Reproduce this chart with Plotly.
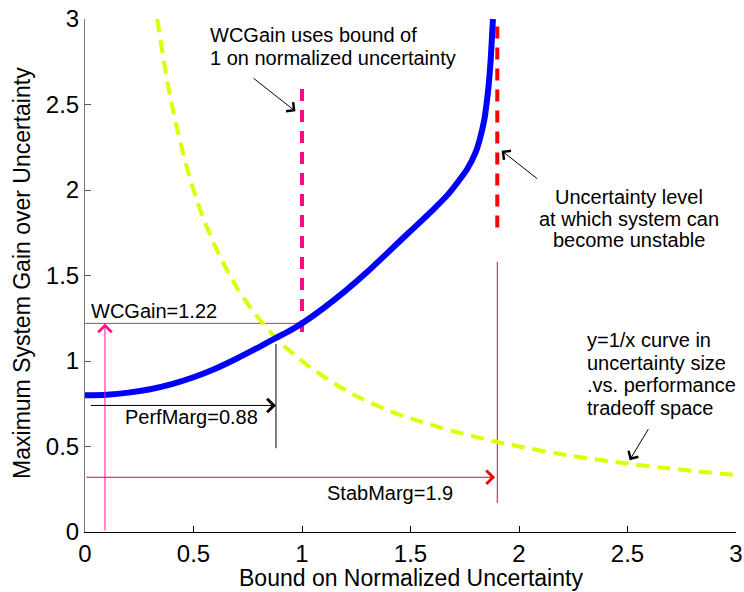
import plotly.graph_objects as go

# Worst-case gain curve
gain_x = [0.0, 0.1, 0.2, 0.3, 0.4, 0.5, 0.6, 0.7, 0.8, 0.88, 0.94, 1.0, 1.1, 1.2,
          1.3, 1.4, 1.5, 1.6, 1.67, 1.72, 1.76, 1.8, 1.82, 1.84, 1.85, 1.86, 1.87, 1.88]
gain_y = [0.80, 0.803, 0.815, 0.835, 0.865, 0.905, 0.955, 1.015, 1.08, 1.135, 1.175,
          1.22, 1.31, 1.41, 1.52, 1.64, 1.76, 1.88, 1.97, 2.05, 2.12, 2.22, 2.30,
          2.41, 2.50, 2.61, 2.77, 3.0]

# y = 1/x tradeoff curve
inv_x = [0.333, 0.4, 0.5, 0.6, 0.7, 0.8, 0.9, 1.0, 1.2, 1.4, 1.6, 1.8, 2.0,
         2.25, 2.5, 2.75, 3.0]
inv_y = [3.0, 2.5, 2.0, 1.67, 1.43, 1.25, 1.11, 1.0, 0.83, 0.71, 0.625, 0.556,
         0.5, 0.444, 0.4, 0.364, 0.333]

# key values
wc_bound = 1.0
wc_bound_span = [1.17, 2.63]
stab_marg = 1.9
stab_dash_span = [1.78, 3.0]
stab_line_span = [0.17, 1.58]
wc_gain = 1.22
perf_marg = 0.88
perf_line_span = [0.49, 1.10]
perf_arrow_y = 0.74
stab_arrow_y = 0.32
wc_arrow_x = 0.092

x_ticks = [0, 0.5, 1, 1.5, 2, 2.5, 3]
y_ticks = [0, 0.5, 1, 1.5, 2, 2.5, 3]

# annotation text lines
note_wc = ["WCGain uses bound of", "1 on normalized uncertainty"]
note_stab = ["Uncertainty level", "at which system can", "become unstable"]
note_inv = ["y=1/x curve in", "uncertainty size", ".vs. performance", "tradeoff space"]

FONT = "Liberation Sans, Arial, sans-serif"
PINK = "#FF1493"
DPINK = "#FF0A82"
RED = "#FF0000"

fig = go.Figure()

# thin helper lines
fig.add_trace(go.Scatter(x=[0, wc_bound], y=[wc_gain, wc_gain], mode="lines",
                         line=dict(color=PINK, width=1), hoverinfo="skip"))
fig.add_trace(go.Scatter(x=[stab_marg, stab_marg], y=stab_line_span, mode="lines",
                         line=dict(color=RED, width=1), hoverinfo="skip"))
fig.add_trace(go.Scatter(x=[perf_marg, perf_marg], y=perf_line_span, mode="lines",
                         line=dict(color="black", width=1), hoverinfo="skip"))

# 1/x curve
fig.add_trace(go.Scatter(x=inv_x, y=inv_y, mode="lines", line_shape="spline",
                         line=dict(color="#DDFF00", width=4, dash="13px,8px"),
                         hoverinfo="skip"))
# dashed vertical lines
fig.add_trace(go.Scatter(x=[wc_bound, wc_bound], y=wc_bound_span, mode="lines",
                         line=dict(color=DPINK, width=4, dash="12px,9px"),
                         hoverinfo="skip"))
fig.add_trace(go.Scatter(x=[stab_marg, stab_marg], y=stab_dash_span, mode="lines",
                         line=dict(color=RED, width=4, dash="12px,9px"),
                         hoverinfo="skip"))
# gain curve
fig.add_trace(go.Scatter(x=gain_x, y=gain_y, mode="lines", line_shape="spline",
                         line=dict(color="#0000FF", width=6, smoothing=0.6),
                         hoverinfo="skip"))

anns = []


def arrow(hx, hy, tx, ty, color, size=2.6):
    anns.append(dict(x=hx, y=hy, ax=tx, ay=ty, xref="x", yref="y", axref="x",
                     ayref="y", text="", showarrow=True, arrowhead=4,
                     arrowsize=size, arrowwidth=1, arrowcolor=color))


arrow(wc_arrow_x, wc_gain, wc_arrow_x, 0.0, PINK)
arrow(perf_marg, perf_arrow_y, 0.02, perf_arrow_y, "black")
arrow(stab_marg - 0.01, stab_arrow_y, 0.0, stab_arrow_y, RED)
arrow(0.97, 2.46, 0.77, 2.66, "black", 2.2)
arrow(1.92, 2.23, 2.09, 2.06, "black", 2.2)
arrow(2.51, 0.42, 2.60, 0.61, "black", 2.2)

tfont = dict(family=FONT, size=20, color="black")


def label(x, y, text, xanchor="center"):
    anns.append(dict(x=x, y=y, xref="x", yref="y", text=text, showarrow=False,
                     xanchor=xanchor, yanchor="middle", font=tfont))


def block(x, y0, lines, xanchor, step=0.131):
    for i, t in enumerate(lines):
        label(x, y0 - i * step, t, xanchor)


block(0.567, 2.906, note_wc, "left", step=0.134)
block(2.507, 1.959, note_stab, "center", step=0.127)
block(2.304, 1.123, note_inv, "left", step=0.133)
label(0.32, 1.29, "WCGain=1.22")
label(0.49, 0.67, "PerfMarg=0.88")
label(1.405, 0.23, "StabMarg=1.9")

# axis titles
anns.append(dict(x=-0.0968, y=0.505, xref="paper", yref="paper", showarrow=False,
                 text="Maximum System Gain over Uncertainty", textangle=-90,
                 xanchor="center", yanchor="middle",
                 font=dict(family=FONT, size=23, color="black")))
anns.append(dict(x=0.5, y=-0.0897, xref="paper", yref="paper", showarrow=False,
                 text="Bound on Normalized Uncertainty",
                 xanchor="center", yanchor="middle",
                 font=dict(family=FONT, size=23, color="black")))

fig.update_layout(
    width=744, height=592,
    margin=dict(l=85, r=8, t=19, b=60),
    paper_bgcolor="white", plot_bgcolor="white",
    showlegend=False,
    annotations=anns,
    font=dict(family=FONT, color="black"),
    xaxis=dict(range=[0, 3], tickvals=x_ticks, ticks="inside", ticklen=6,
               tickcolor="black", showline=True, linecolor="black", linewidth=1,
               showgrid=False, zeroline=False, tickfont=dict(size=24),
               automargin=False, ticklabeloverflow="allow"),
    yaxis=dict(range=[0, 3], tickvals=y_ticks, ticks="inside", ticklen=6,
               tickcolor="#555555", showline=True, linecolor="#777777", linewidth=1,
               showgrid=False, zeroline=False, tickfont=dict(size=24),
               automargin=False, ticklabeloverflow="allow"),
)

# remove the page's default body margin so the figure fills the window exactly
fig.write_html("out.html",
               config={"displayModeBar": False},
               post_script="document.body.style.margin='0';document.body.style.overflow='hidden';")
